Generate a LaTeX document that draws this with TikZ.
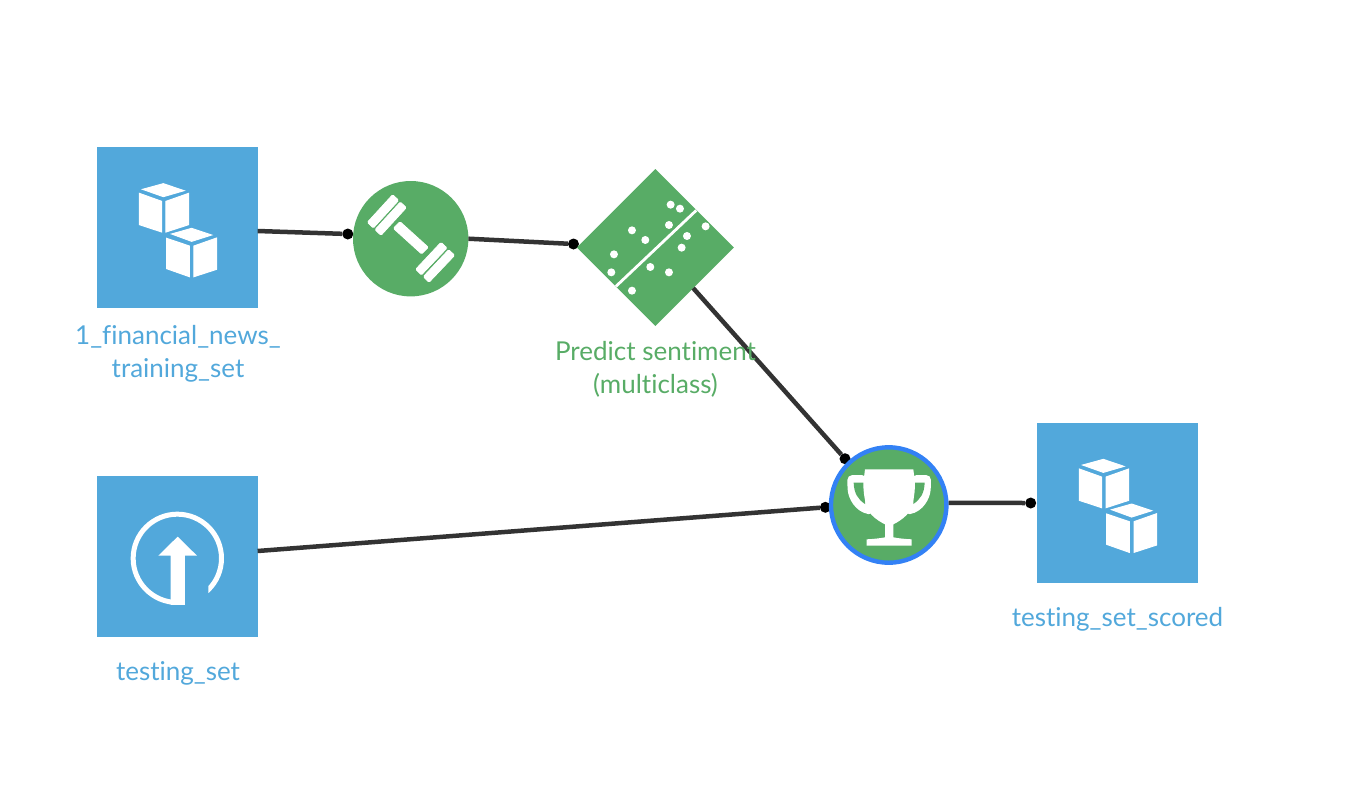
\documentclass[tikz,border=0pt]{standalone}
\usepackage{fontspec}
\setmainfont[Ligatures=CommonOff]{Lato}
\usetikzlibrary{shapes.geometric}
\definecolor{flowblue}{HTML}{52A8DB}
\definecolor{flowgreen}{HTML}{58AC66}
\definecolor{ringblue}{HTML}{3381F5}
\definecolor{linkgrey}{HTML}{333333}
\tikzset{
  dataset/.style={rectangle,fill=flowblue,minimum size=160.4pt,inner sep=0pt,outer sep=0pt},
  recipe/.style={circle,fill=flowgreen,minimum size=115.4pt,inner sep=0pt,outer sep=0pt},
  scorering/.style={circle,fill=flowgreen,draw=ringblue,line width=4.4pt,minimum size=115.4pt,inner sep=0pt,outer sep=2.2pt},
  modelbox/.style={diamond,fill=flowgreen,minimum size=157pt,inner sep=0pt,outer sep=0pt},
  port/.style={circle,fill=black,minimum size=11pt,inner sep=0pt,outer sep=0pt},
  link/.style={draw=linkgrey,line width=4.5pt},
  bluetext/.style={text=flowblue,font=\fontsize{26}{33}\selectfont,align=center,inner sep=0pt},
  greentext/.style={text=flowgreen,font=\fontsize{26}{33}\selectfont,align=center,inner sep=0pt},
  glyph/.style={fill=white,draw=white,line width=1pt},
  plate/.style={fill=white,draw=white,line width=0.8pt,rounded corners=1.2pt},
}
\newcommand{\cubeglyph}[2]{%
  \begin{scope}[shift={(#1,#2)},x=0.3333pt,y=-0.3333pt]
    \path[glyph] (158,148)--(220,131)--(282,152)--(220,170)--cycle;
    \path[glyph] (148,160)--(215,184)--(215,276)--(148,254)--cycle;
    \path[glyph] (228,184)--(296,160)--(296,254)--(228,276)--cycle;
    \path[glyph] (245,282)--(305,265)--(365,285)--(305,304)--cycle;
    \path[glyph] (230,295)--(298,318)--(298,410)--(230,386)--cycle;
    \path[glyph] (312,318)--(380,294)--(380,388)--(312,410)--cycle;
  \end{scope}}
\begin{document}
\begin{tikzpicture}[x=1pt,y=-1pt]
\useasboundingbox (0,0) rectangle (1350,788);
% ports
\node[port] (p1) at (347.8,234) {};
\node[port] (p2) at (573.5,244) {};
\node[port] (p3) at (845,458.7) {};
\node[port] (p4) at (825.4,507.3) {};
\node[port] (p5) at (1030.7,503) {};
% nodes
\node[dataset] (train) at (177.4,227.5) {};
\node[dataset] (test) at (177.4,556.3) {};
\node[dataset] (scored) at (1117.3,503.1) {};
\node[recipe] (dumb) at (410.7,238.7) {};
\node[modelbox] (model) at (655.3,247.5) {};
\node[scorering] (trophy) at (888.7,505) {};
% connectors
\draw[link] ([yshift=-3.5pt]train.east) -- (p1);
\draw[link] (dumb.0) -- (p2);
\draw[link] (model.-47) -- (p3);
\draw[link] ([yshift=5.3pt]test.east) -- (p4);
\draw[link] (trophy.2) -- (p5);
% cube icons
\cubeglyph{90}{140}
\cubeglyph{1030}{415.7}
% dumbbell
\begin{scope}[shift={(360,190)},x=0.3333pt,y=-0.3333pt]
  \path[plate] (98,14)--(116,31)--(40,114)--(22,97)--cycle;
  \path[plate] (121,36)--(139,53)--(63,136)--(45,119)--cycle;
  \path[plate] (120,95)--(205,172)--(185,192)--(100,115)--cycle;
  \path[plate] (243,157)--(261,174)--(184,255)--(167,238)--cycle;
  \path[plate] (266,179)--(284,196)--(207,277)--(190,260)--cycle;
\end{scope}
% model
\begin{scope}[shift={(340,160)},x=0.3333pt,y=-0.3333pt]
  \draw[white,line width=2.8pt] (1069,151)--(828,379);
  \foreach \px/\py in {992/134,1020/146,987/195,876/211,916/240,1097/199,1041/228,1025/263,822/283,814/337,931/321,987/337,876/392}
    \fill[white] (\px,\py) circle[radius=12];
\end{scope}
% upload icon
\begin{scope}[shift={(90,470)},x=0.3333pt,y=-0.3333pt]
  \begin{scope}
    \clip (22,19)--(503,19)--(503,499)--(355,499)--(355,300)--(285,300)--(285,499)--(22,499)--cycle;
    \draw[white,line width=5pt] (262,265) circle[radius=132.5];
  \end{scope}
  \fill[white] (263,200)--(321,257)--(285,257)--(285,405)--(242,405)--(242,257)--(205,257)--cycle;
\end{scope}
% trophy
\begin{scope}[shift={(840,460)},x=0.3333pt,y=-0.3333pt]
  \fill[white,rounded corners=5pt] (80,45)--(22,45)--(22,75) .. controls (25,115) and (45,155) .. (100,165)--cycle;
  \fill[white,rounded corners=5pt] (215,45)--(273,45)--(273,75) .. controls (270,115) and (250,155) .. (195,165)--cycle;
  \fill[flowgreen] (41,68)--(75,68)--(75,132) .. controls (54,118) and (42,100) .. (41,68)--cycle;
  \fill[flowgreen] (254,68)--(220,68)--(220,132) .. controls (241,118) and (253,100) .. (254,68)--cycle;
  \fill[white] (75,28)--(220,28)--(225,68) .. controls (225,110) and (217,145) .. (200,165)
    .. controls (185,180) and (170,188) .. (160,193)--(160,232) .. controls (175,235) and (195,237) .. (215,238)
    --(215,257)--(80,257)--(80,238) .. controls (100,237) and (120,235) .. (135,232)--(135,193)
    .. controls (125,188) and (110,180) .. (95,165) .. controls (78,145) and (70,110) .. (70,68)--cycle;
\end{scope}
% labels
\node[bluetext] (l1) at (178,354) {1\_financial\_news\_\\training\_set};
\node[greentext] (l2) at (655.5,369) {Predict sentiment\\(multiclass)};
\node[bluetext] (l3) at (178,673.5) {testing\_set};
\node[bluetext] (l4) at (1117.5,619.5) {testing\_set\_scored};
\end{tikzpicture}
\end{document}
